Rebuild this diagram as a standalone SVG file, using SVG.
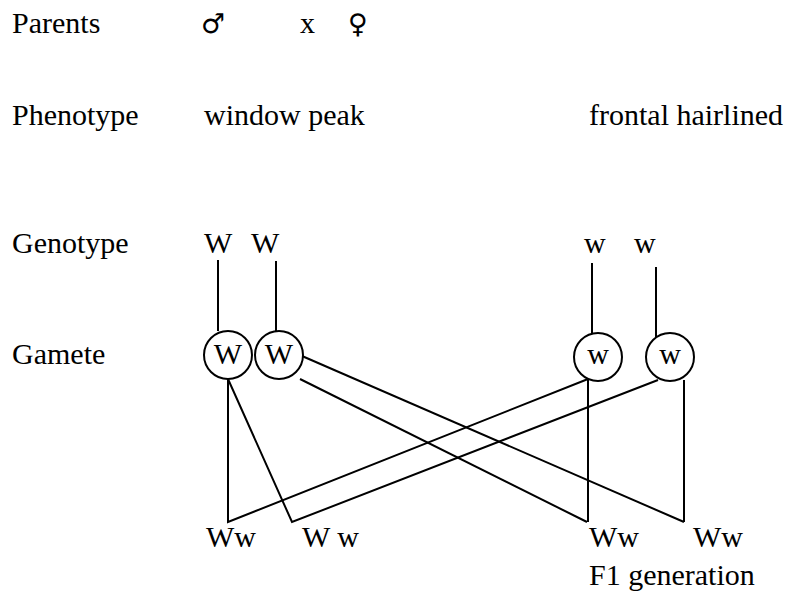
<svg xmlns="http://www.w3.org/2000/svg" width="797" height="592" viewBox="0 0 797 592">
  <style>
    text { font-family: "Liberation Serif", "Times New Roman", serif; font-size: 30px; fill: #000; }
    .sym { font-family: "DejaVu Sans", sans-serif; font-size: 27px; }
    .link { stroke: #000; stroke-width: 2; fill: none; }
    .gamete circle { fill: #fff; stroke: #000; stroke-width: 2; }
    .gamete text { text-anchor: middle; }
  </style>
  <rect width="797" height="592" fill="#fff"/>

  <!-- row labels -->
  <g id="labels">
    <text x="12" y="33">Parents</text>
    <text x="12" y="125">Phenotype</text>
    <text x="12" y="253">Genotype</text>
    <text x="12" y="364">Gamete</text>
  </g>

  <!-- parental cross -->
  <g id="parents">
    <text class="sym" x="201" y="33">♂</text>
    <text x="300" y="33">x</text>
    <text class="sym" x="348" y="33">♀</text>
  </g>

  <g id="phenotypes">
    <text x="204" y="125">window peak</text>
    <text x="589" y="125">frontal hairlined</text>
  </g>

  <g id="genotypes">
    <text x="204" y="253">W</text>
    <text x="251" y="253">W</text>
    <text x="584" y="253">w</text>
    <text x="634" y="253">w</text>
  </g>

  <!-- connectors -->
  <g id="connectors">
    <line class="link" x1="218" y1="260" x2="218" y2="331"/>
    <line class="link" x1="276" y1="261" x2="276" y2="331"/>
    <line class="link" x1="592" y1="263" x2="592" y2="333"/>
    <line class="link" x1="656" y1="267" x2="656" y2="337"/>

    <polyline class="link" points="228,379 228,522 588,379"/>
    <polyline class="link" points="228,379 292,522 658,380"/>
    <line class="link" x1="302" y1="356" x2="684" y2="522"/>
    <line class="link" x1="300" y1="379" x2="587" y2="522"/>
    <line class="link" x1="588" y1="379" x2="588" y2="522"/>
    <line class="link" x1="684" y1="380" x2="684" y2="522"/>
  </g>

  <!-- gametes -->
  <g id="gamete-W1" class="gamete">
    <circle cx="228" cy="355" r="24"/>
    <text x="228" y="364">W</text>
  </g>
  <g id="gamete-W2" class="gamete">
    <circle cx="279" cy="355" r="24"/>
    <text x="279" y="364">W</text>
  </g>
  <g id="gamete-w1" class="gamete">
    <circle cx="598" cy="357" r="24"/>
    <text x="598" y="364">w</text>
  </g>
  <g id="gamete-w2" class="gamete">
    <circle cx="670" cy="357" r="24"/>
    <text x="670" y="364">w</text>
  </g>

  <!-- F1 offspring -->
  <g id="offspring">
    <text x="206" y="547">Ww</text>
    <text x="302" y="547">W w</text>
    <text x="589" y="547">Ww</text>
    <text x="693" y="547">Ww</text>
    <text x="589" y="585">F1 generation</text>
  </g>
</svg>
